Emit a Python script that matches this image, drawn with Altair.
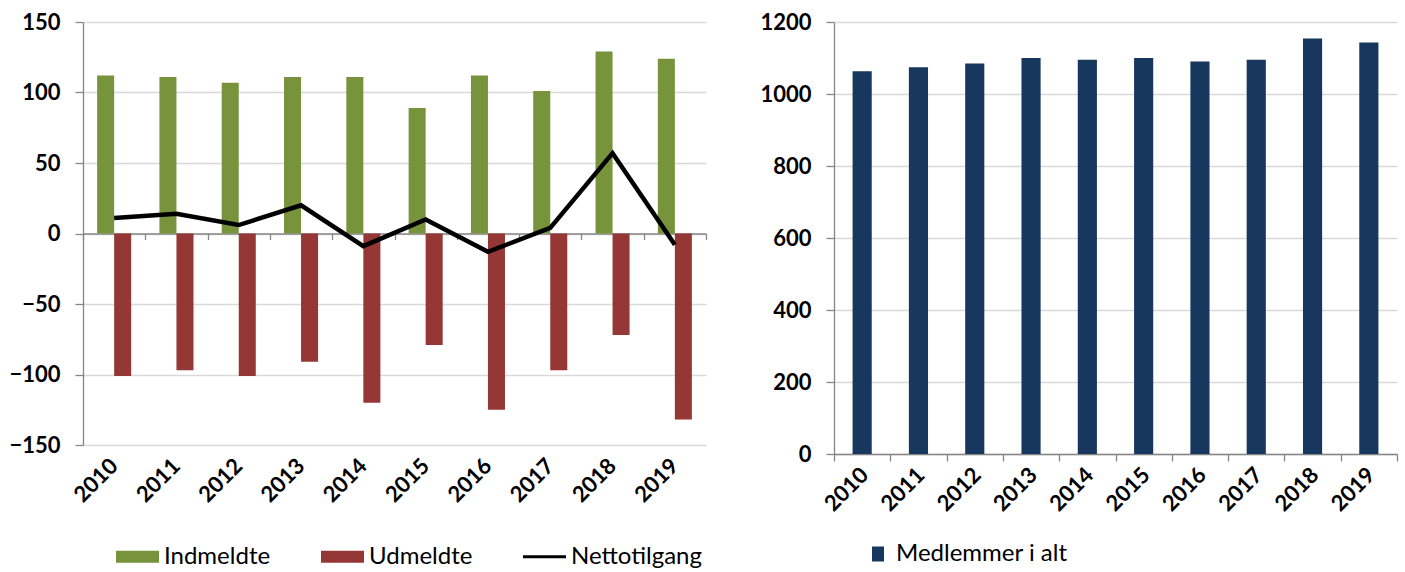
import altair as alt
import pandas as pd

# Membership flows per year
years = ["2010", "2011", "2012", "2013", "2014", "2015", "2016", "2017", "2018", "2019"]
indmeldte = [112, 111, 107, 111, 111, 89, 112, 101, 129, 124]
udmeldte = [-101, -97, -101, -91, -120, -79, -125, -97, -72, -132]
nettotilgang = [11, 14, 6, 20, -9, 10, -13, 4, 57, -8]

# Total membership per year
medlemmer = [1063, 1074, 1085, 1100, 1095, 1100, 1090, 1095, 1154, 1143]

series = ["Indmeldte", "Udmeldte", "Nettotilgang"]
series_colors = ["#77933C", "#953735", "#000000"]
total_label = "Medlemmer i alt"
total_color = "#17375E"

left_ticks = [-150, -100, -50, 0, 50, 100, 150]
right_ticks = [0, 200, 400, 600, 800, 1000, 1200]

flow_df = pd.DataFrame(
    {"year": years * 2,
     "serie": ["Indmeldte"] * len(years) + ["Udmeldte"] * len(years),
     "value": indmeldte + udmeldte}
)
net_df = pd.DataFrame({"year": years, "serie": "Nettotilgang", "value": nettotilgang})
key_df = pd.DataFrame({"serie": series})
total_df = pd.DataFrame({"year": years, "serie": total_label, "value": medlemmer})

LEFT_W, LEFT_H = 623, 423
RIGHT_W, RIGHT_H = 563, 432

RECT = "M-1,-0.28H1V0.28H-1Z"
LINE = "M-1,-0.07H1V0.07H-1Z"
BOX = "M-0.8,-1H0.8V1H-0.8Z"

color_scale = alt.Scale(domain=series, range=series_colors)
shape_scale = alt.Scale(domain=series, range=[RECT, RECT, LINE])
x_band = alt.Scale(paddingInner=0, paddingOuter=0)

legend_left = alt.Legend(
    title=None, orient="none", legendX=33, legendY=513, direction="horizontal",
    symbolSize=1849, symbolOpacity=1, symbolStrokeWidth=0,
    labelFont="Lato", labelFontSize=24, labelColor="#000000", labelOffset=5,
    labelLimit=0, columnPadding=50,
)

y_left = alt.Y(
    "value:Q",
    scale=alt.Scale(domain=[-150, 150], nice=False),
    axis=alt.Axis(values=left_ticks, format="d", title=None, tickSize=8, labelPadding=15),
)

bars = alt.Chart(flow_df).mark_bar().encode(
    x=alt.X("year:N", scale=x_band, sort=years,
            axis=alt.Axis(orient="bottom", labelAngle=-45, domain=False, ticks=False,
                          grid=False, labelPadding=10, labelOffset=-7, title=None)),
    xOffset=alt.XOffset("serie:N", sort=series[:2],
                        scale=alt.Scale(domain=series[:2], paddingInner=0, paddingOuter=0.83)),
    y=y_left,
    color=alt.Color("serie:N", scale=color_scale, legend=legend_left),
)

net_line = alt.Chart(net_df).mark_line(strokeWidth=4.5).encode(
    x=alt.X("year:N", scale=x_band, sort=years,
            axis=alt.Axis(orient="bottom", offset=-LEFT_H / 2, labels=False, domain=True,
                          ticks=True, tickBand="extent", tickSize=6, grid=False, title=None)),
    y=alt.Y("value:Q"),
    color=alt.Color("serie:N", scale=color_scale, legend=legend_left),
)

keys = alt.Chart(key_df).mark_point(filled=True, opacity=0).encode(
    color=alt.Color("serie:N", scale=color_scale, legend=legend_left),
    shape=alt.Shape("serie:N", scale=shape_scale, legend=legend_left),
)

left = (
    alt.layer(bars, net_line, keys)
    .resolve_axis(x="independent")
    .properties(width=LEFT_W, height=LEFT_H)
)

legend_right = alt.Legend(
    title=None, orient="none", legendX=32, legendY=520, direction="horizontal",
    symbolType=BOX, symbolSize=225, symbolOpacity=1, symbolStrokeWidth=0,
    labelFont="Lato", labelFontSize=24, labelColor="#000000", labelOffset=6,
    labelLimit=0,
)

right = alt.Chart(total_df).mark_bar(width=alt.RelativeBandSize(0.34)).encode(
    x=alt.X("year:N", scale=x_band, sort=years,
            axis=alt.Axis(labelAngle=-45, tickBand="extent", tickSize=7, labelPadding=3,
                          labelOffset=-5, grid=False, title=None)),
    y=alt.Y("value:Q", scale=alt.Scale(domain=[0, 1200], nice=False),
            axis=alt.Axis(values=right_ticks, format="d", title=None, tickSize=8, labelPadding=15)),
    color=alt.Color("serie:N", scale=alt.Scale(domain=[total_label], range=[total_color]),
                    legend=legend_right),
).properties(width=RIGHT_W, height=RIGHT_H)

chart = (
    alt.hconcat(left, right, spacing=52)
    .resolve_scale(color="independent", shape="independent")
    .properties(padding={"left": 8, "top": 11, "right": 5, "bottom": 0}, background="white")
    .configure_view(stroke=None)
    .configure_axis(
        labelFont="Lato", labelFontWeight="bold", labelFontSize=22, labelColor="#000000",
        domainColor="#868686", domainWidth=1.3, tickColor="#868686", tickWidth=1.3,
        gridColor="#D9D9D9", gridWidth=1.4,
    )
)

chart.save("out.html", embed_options={"renderer": "svg", "actions": False})
